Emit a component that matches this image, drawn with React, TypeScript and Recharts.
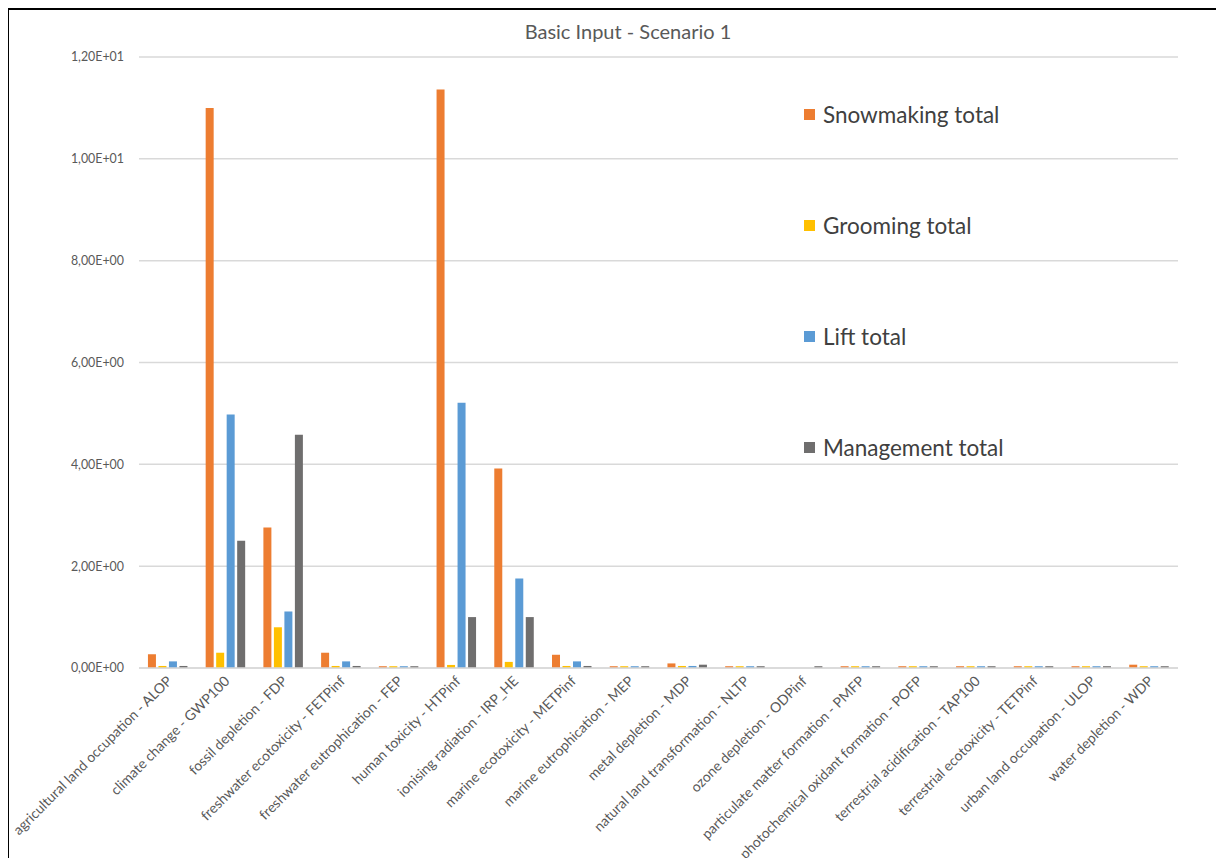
import React from 'react';
import { BarChart, Bar, XAxis, YAxis, CartesianGrid } from 'recharts';

const categories = [
  'agricultural land occupation - ALOP',
  'climate change - GWP100',
  'fossil depletion - FDP',
  'freshwater ecotoxicity - FETPinf',
  'freshwater eutrophication - FEP',
  'human toxicity - HTPinf',
  'ionising radiation - IRP_HE',
  'marine ecotoxicity - METPinf',
  'marine eutrophication - MEP',
  'metal depletion - MDP',
  'natural land transformation - NLTP',
  'ozone depletion - ODPinf',
  'particulate matter formation - PMFP',
  'photochemical oxidant formation - POFP',
  'terrestrial acidification - TAP100',
  'terrestrial ecotoxicity - TETPinf',
  'urban land occupation - ULOP',
  'water depletion - WDP',
];

const snowmaking = [0.27, 11.0, 2.76, 0.3, 0.035, 11.36, 3.92, 0.26, 0.035, 0.09, 0.035, 0, 0.035, 0.035, 0.035, 0.035, 0.035, 0.065];
const grooming = [0.04, 0.3, 0.8, 0.04, 0.035, 0.06, 0.12, 0.04, 0.035, 0.04, 0.035, 0, 0.035, 0.035, 0.035, 0.035, 0.035, 0.035];
const lift = [0.13, 4.98, 1.11, 0.13, 0.035, 5.21, 1.76, 0.13, 0.035, 0.04, 0.035, 0, 0.035, 0.035, 0.035, 0.035, 0.035, 0.035];
const management = [0.04, 2.5, 4.58, 0.04, 0.035, 1.0, 1.0, 0.04, 0.035, 0.065, 0.035, 0.035, 0.035, 0.035, 0.035, 0.035, 0.035, 0.035];

const yTicks = [0, 2, 4, 6, 8, 10, 12];
const yTickLabels = ['0,00E+00', '2,00E+00', '4,00E+00', '6,00E+00', '8,00E+00', '1,00E+01', '1,20E+01'];

const series = [
  { key: 'snow', name: 'Snowmaking total', color: '#ED7D31' },
  { key: 'groom', name: 'Grooming total', color: '#FFC000' },
  { key: 'lift', name: 'Lift total', color: '#5B9BD5' },
  { key: 'mgmt', name: 'Management total', color: '#6F6E6E' },
];

const data = categories.map((name, i) => ({
  name,
  snow: snowmaking[i],
  groom: grooming[i],
  lift: lift[i],
  mgmt: management[i],
}));

const FONT = 'Lato, "Open Sans", sans-serif';

const XTick = (props: any) => {
  const { x, y, payload } = props;
  return (
    <text
      x={x + 5}
      y={y + 6}
      transform={`rotate(-45 ${x + 5} ${y + 6})`}
      textAnchor="end"
      fill="#595959"
      fontSize={14}
      fontFamily={FONT}
    >
      {payload.value}
    </text>
  );
};

export default function App() {
  return (
    <div
      style={{
        marginLeft: -1,
        width: 1213,
        height: 870,
        boxSizing: 'border-box',
        border: '2px solid #000',
        position: 'relative',
        background: '#fff',
        overflow: 'hidden',
      }}
    >
      <div
        style={{
          position: 'absolute',
          top: 9,
          left: 619,
          transform: 'translateX(-50%)',
          fontFamily: FONT,
          fontSize: 20,
          lineHeight: '24px',
          color: '#595959',
          whiteSpace: 'nowrap',
        }}
      >
        Basic Input - Scenario 1
      </div>

      {/* legend sits inside the plot, on the right */}
      <div style={{ position: 'absolute', top: 49, left: 795, fontFamily: FONT }}>
        {series.map((s) => (
          <div key={s.key} style={{ height: 111, display: 'flex', alignItems: 'center' }}>
            <span style={{ width: 11, height: 11, background: s.color, display: 'inline-block', marginRight: 8 }} />
            <span style={{ fontSize: 22.5, color: '#404040' }}>{s.name}</span>
          </div>
        ))}
      </div>

      <BarChart
        width={1209}
        height={858}
        data={data}
        margin={{ top: 47, right: 40, left: 0, bottom: 0 }}
        barCategoryGap="15.5%"
        barGap={2.5}
      >
        <CartesianGrid vertical={false} stroke="#D9D9D9" strokeWidth={1.5} />
        <XAxis
          dataKey="name"
          interval={0}
          height={200}
          tickLine={false}
          axisLine={{ stroke: '#D9D9D9', strokeWidth: 1.5 }}
          tick={<XTick />}
        />
        <YAxis
          width={130}
          domain={[0, 12]}
          ticks={yTicks}
          tickFormatter={(v: number) => yTickLabels[yTicks.indexOf(v)]}
          axisLine={false}
          tickLine={false}
          tickMargin={9}
          tick={{ fill: '#595959', fontSize: 12.4, fontFamily: FONT }}
        />
        {series.map((s) => (
          <Bar key={s.key} dataKey={s.key} name={s.name} fill={s.color} isAnimationActive={false} />
        ))}
      </BarChart>
    </div>
  );
}
